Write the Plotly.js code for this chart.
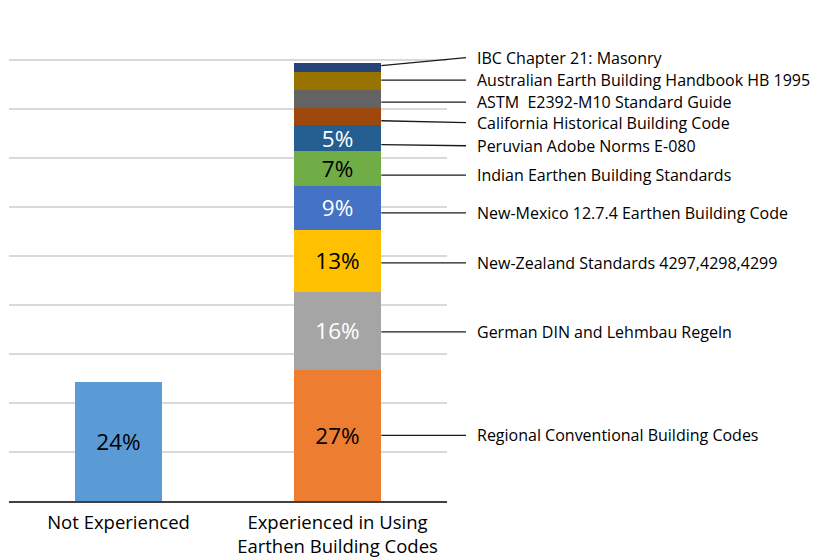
<!DOCTYPE html>
<html>
<head>
<meta charset="utf-8">
<script src="https://cdn.plot.ly/plotly-3.0.1.min.js"></script>
<style>html,body{margin:0;padding:0;background:#fff;}#chart{width:821px;height:558px;}</style>
</head>
<body>
<div id="chart"></div>
<script>
// ---- data ----
var categories = ['Not Experienced', 'Experienced in Using<br>Earthen Building Codes'];
var notExperiencedValue = 24.3;
var codeNames = [
  'Regional Conventional Building Codes',
  'German DIN and Lehmbau Regeln',
  'New-Zealand Standards 4297,4298,4299',
  'New-Mexico 12.7.4 Earthen Building Code',
  'Indian Earthen Building Standards',
  'Peruvian Adobe Norms E-080',
  'California Historical Building Code',
  'ASTM  E2392-M10 Standard Guide',
  'Australian Earth Building Handbook HB 1995',
  'IBC Chapter 21: Masonry'
];
var codeValues = [26.7, 16.0, 12.6, 9.0, 7.1, 5.3, 3.6, 3.5, 3.7, 1.8];
var codeLabels = ['27%', '16%', '13%', '9%', '7%', '5%', '', '', '', ''];
var notExperiencedLabel = '24%';
// label positions (axis units) for the callout text
var calloutY = [13.4, 34.5, 48.6, 58.8, 66.5, 72.5, 77.2, 81.4, 85.9, 90.5];

// ---- styles ----
var codeColors = ['#ED7D31', '#A5A5A5', '#FFC000', '#4472C4', '#70AD47', '#255E91', '#9E480E', '#636363', '#997300', '#264478'];
var codeTextColors = ['#000', '#fff', '#000', '#fff', '#000', '#fff', '#fff', '#fff', '#fff', '#fff'];
var FONT = 'Open Sans, sans-serif';

var traces = [];
traces.push({
  type: 'bar', x: [categories[0]], y: [notExperiencedValue],
  text: [notExperiencedLabel], textposition: 'inside', insidetextanchor: 'middle',
  constraintext: 'none', textangle: 0,
  textfont: {family: FONT, size: 22.5, color: '#000'},
  marker: {color: '#5B9BD5'}, hoverinfo: 'none', showlegend: false
});
codeNames.forEach(function (n, i) {
  traces.push({
    type: 'bar', name: n, x: [categories[1]], y: [codeValues[i]],
    text: [codeLabels[i]], textposition: 'inside', insidetextanchor: 'middle',
    constraintext: 'none', textangle: 0,
    textfont: {family: FONT, size: 22.5, color: codeTextColors[i]},
    marker: {color: codeColors[i]}, hoverinfo: 'none', showlegend: false
  });
});

var yMax = 100;
var shapes = [], annotations = [];
var cum = 0;
var barHalf = 0.2;
var x0 = (1 + barHalf + 0.5) / 2;  // right edge of second bar in paper units
var x1 = (466 - 9) / 438;
codeValues.forEach(function (v, i) {
  var lo = cum, hi = cum + v; cum = hi;
  var mid = (lo + hi) / 2, q = v * 0.25;
  var ys = Math.min(Math.max(calloutY[i], mid - q), mid + q);
  shapes.push({type: 'line', xref: 'paper', yref: 'paper', x0: x0, x1: x1,
    y0: ys / yMax, y1: calloutY[i] / yMax, line: {color: '#1a1a1a', width: 1.3}});
  annotations.push({xref: 'paper', yref: 'y', x: (475 - 9) / 438, y: calloutY[i],
    xanchor: 'left', yanchor: 'middle', showarrow: false, text: codeNames[i].replace(/  /g, '&nbsp; '),
    font: {family: FONT, size: 16, color: '#000'}});
});

var layout = {
  width: 821, height: 558,
  margin: {l: 9, r: 374, t: 11, b: 57, pad: 0},
  paper_bgcolor: '#fff', plot_bgcolor: '#fff',
  barmode: 'stack', bargap: 0.6,
  showlegend: false,
  xaxis: {type: 'category', showline: true, linecolor: '#404040', linewidth: 1.5,
    ticks: '', showgrid: false, ticklabelstandoff: 4,
    tickfont: {family: FONT, size: 18.5, color: '#000'}},
  yaxis: {range: [0, yMax], dtick: 10, showticklabels: false, showgrid: true,
    gridcolor: '#d9d9d9', gridwidth: 1.3, zeroline: false, showline: false, ticks: ''},
  shapes: shapes,
  annotations: annotations,
  font: {family: FONT}
};

Plotly.newPlot('chart', traces, layout, {staticPlot: true, displayModeBar: false});
</script>
</body>
</html>
